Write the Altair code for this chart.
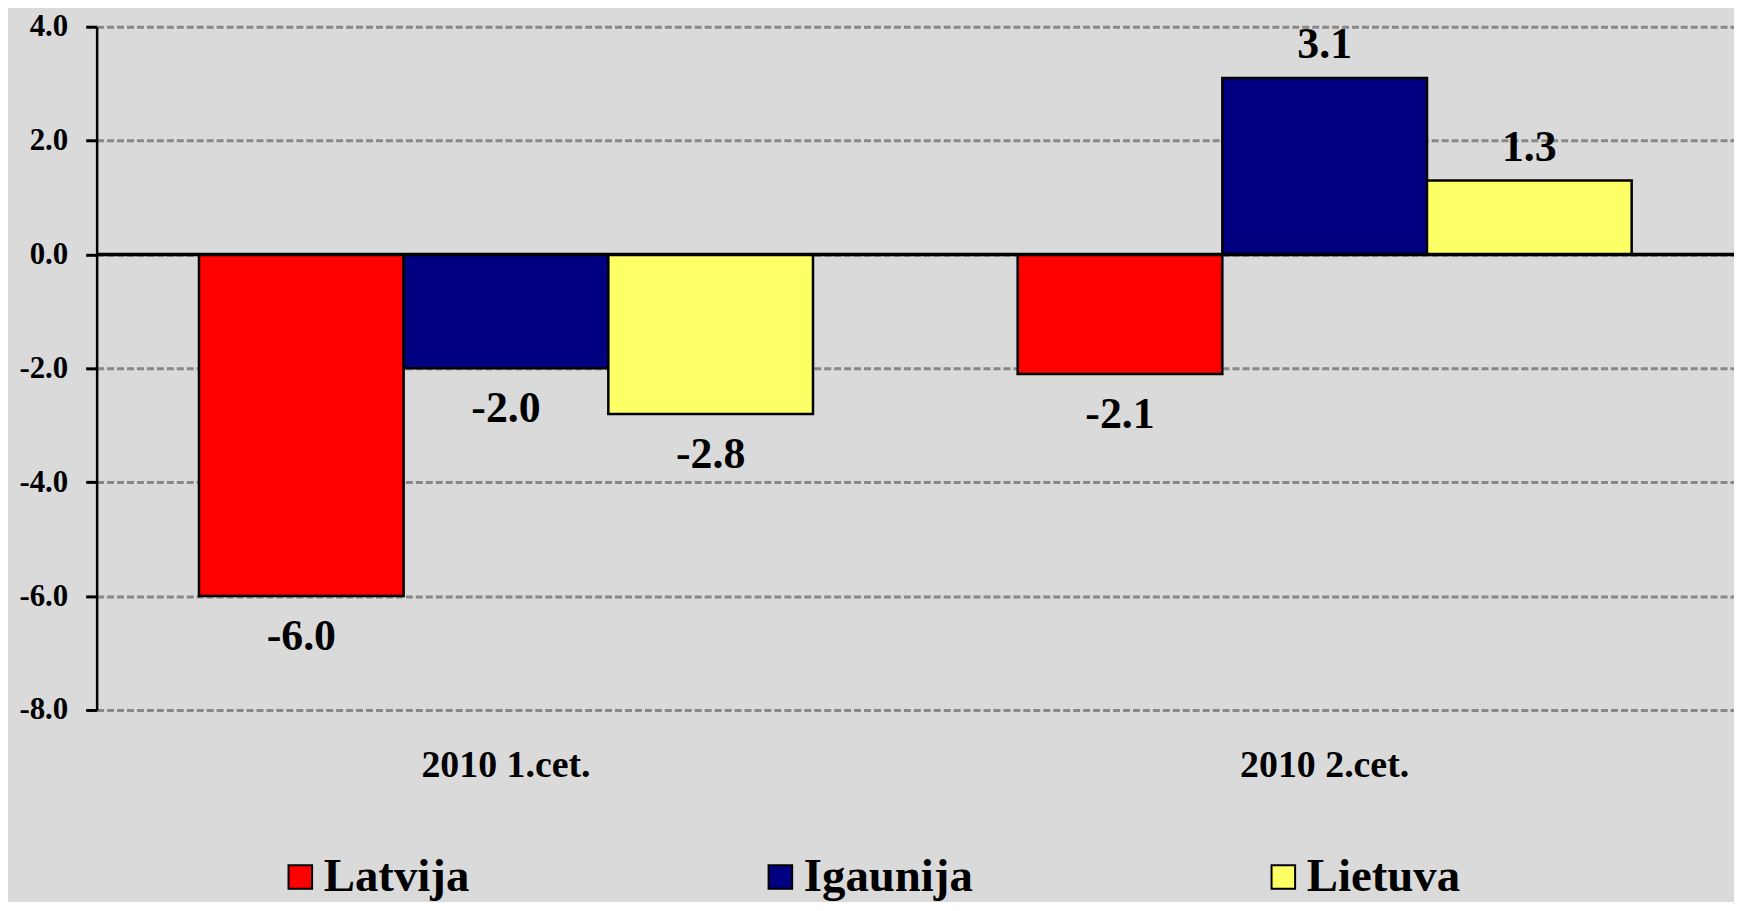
import altair as alt
import pandas as pd

quarters = ["2010 1.cet.", "2010 2.cet."]
countries = ["Latvija", "Igaunija", "Lietuva"]
latvija = [-6.0, -2.1]
igaunija = [-2.0, 3.1]
lietuva = [-2.8, 1.3]
colors = ["#FF0000", "#000080", "#FFFF66"]
y_ticks = [-8, -6, -4, -2, 0, 2, 4]

rows = []
for i, q in enumerate(quarters):
    for c, vals in zip(countries, [latvija, igaunija, lietuva]):
        rows.append({"quarter": q, "country": c, "value": vals[i]})
df = pd.DataFrame(rows)

FONT = "Liberation Serif"
FMT = "replace(format(datum.value, '.1f'), '\u2212', '-')"

base = alt.Chart(df).transform_calculate(label=FMT)

x = alt.X(
    "quarter:N", sort=quarters, title=None,
    scale=alt.Scale(paddingInner=0.25, paddingOuter=0.125),
    axis=alt.Axis(labelAngle=0, domain=False, ticks=False, grid=False,
                  labelFont=FONT, labelFontSize=38, labelFontWeight="bold",
                  labelColor="black", labelPadding=56, labelBaseline="middle"),
)
xo = alt.XOffset("country:N", sort=countries,
                 scale=alt.Scale(paddingInner=0, paddingOuter=0))
y = alt.Y(
    "value:Q", title=None,
    scale=alt.Scale(domain=[-8, 4], nice=False, zero=False),
    axis=alt.Axis(values=y_ticks, labelExpr=FMT, grid=True,
                  gridDash=[7, 3], gridColor="#888888", gridWidth=3,
                  domainColor="black", domainWidth=2.5,
                  tickColor="black", tickWidth=3, tickSize=11,
                  labelPadding=18, labelFont=FONT, labelFontSize=31,
                  labelFontWeight="bold", labelColor="black"),
)
color = alt.Color(
    "country:N", sort=countries,
    scale=alt.Scale(domain=countries, range=colors),
    legend=alt.Legend(title=None, orient="none", legendX=181, legendY=830,
                      direction="horizontal", columns=3, columnPadding=288,
                      symbolType="square", symbolSize=560,
                      symbolStrokeColor="black", symbolStrokeWidth=2,
                      symbolOpacity=1, labelFont=FONT, labelFontSize=47,
                      labelFontWeight="bold", labelColor="black",
                      labelOffset=0, labelLimit=400, padding=0),
)

bars = base.mark_bar(stroke="black", strokeWidth=2.5, opacity=1).encode(
    x=x, xOffset=xo, y=y, color=color
)
pos = base.transform_filter("datum.value >= 0").mark_text(
    baseline="bottom", dy=-11, font=FONT, fontSize=44, fontWeight="bold", color="black"
).encode(x=x, xOffset=xo, y=y, text="label:N")
neg = base.transform_filter("datum.value < 0").mark_text(
    baseline="top", dy=19, font=FONT, fontSize=44, fontWeight="bold", color="black"
).encode(x=x, xOffset=xo, y=y, text="label:N")
zero = alt.Chart(pd.DataFrame({"zero": [0]})).mark_rule(
    color="black", strokeWidth=3.5
).encode(y="zero:Q")

chart = (
    alt.layer(bars, pos, neg, zero)
    .properties(width=1644, height=686,
                autosize=alt.AutoSizeParams(type="none"),
                padding={"left": 89, "top": 17, "right": 0, "bottom": 191})
    .configure_view(stroke=None, fill="#e5e5e5")
    .configure(background="#dadada")
)

chart.save("out.html", embed_options={"renderer": "svg", "actions": False})
